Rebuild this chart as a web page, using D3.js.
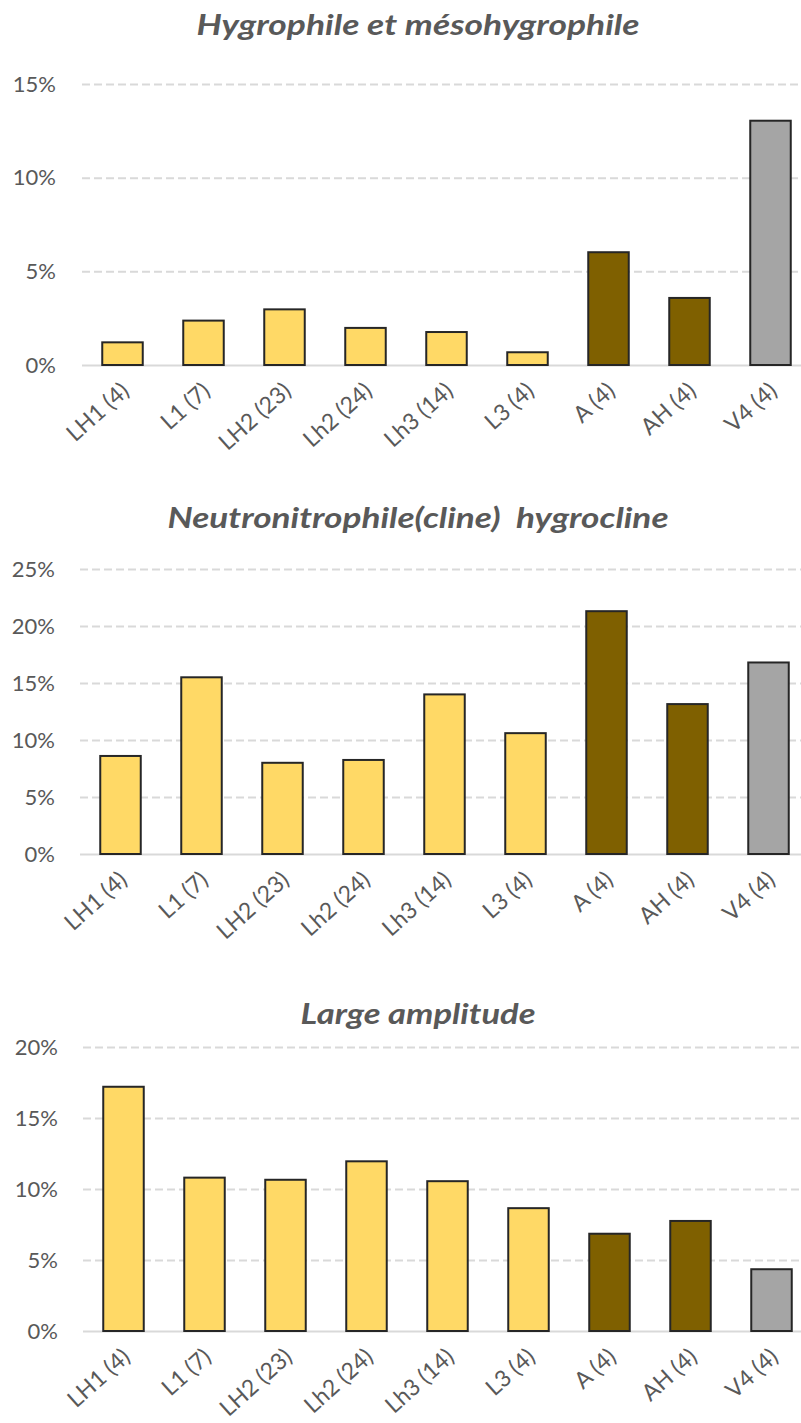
<!DOCTYPE html>
<html><head><meta charset="utf-8">
<script src="https://cdn.jsdelivr.net/npm/d3@7"></script>
<style>
html,body{margin:0;padding:0;background:#fff;overflow:hidden;}
svg{display:block;}
</style></head>
<body>
<script>
const categories = ["LH1 (4)","L1 (7)","LH2 (23)","Lh2 (24)","Lh3 (14)","L3 (4)","A (4)","AH (4)","V4 (4)"];
const groups = ["L","L","L","L","L","L","A","A","V"];
const hygroValues = [1.21, 2.37, 2.97, 1.98, 1.76, 0.68, 6.02, 3.58, 13.04];
const neutroValues = [8.6, 15.5, 8.0, 8.25, 14.0, 10.6, 21.3, 13.15, 16.8];
const largeValues = [17.2, 10.8, 10.65, 11.95, 10.55, 8.65, 6.85, 7.75, 4.35];
const hygroTicks = [0, 5, 10, 15];
const neutroTicks = [0, 5, 10, 15, 20, 25];
const largeTicks = [0, 5, 10, 15, 20];
const titles = ["Hygrophile et mésohygrophile", "Neutronitrophile(cline)  hygrocline", "Large amplitude"];

const colorMap = {L: "#FFD966", A: "#7F6000", V: "#A5A5A5"};

const W = 801, H = 1423;
const svg = d3.select("body").append("svg").attr("width", W).attr("height", H);

const panels = [
  {title: titles[0], values: hygroValues, ticks: hygroTicks, max: 15, y0: 365, y1: 84, x0: 82, x1: 811, titleY: 35, titleLen: 443, labelX: 56},
  {title: titles[1], values: neutroValues, ticks: neutroTicks, max: 25, y0: 854, y1: 569, x0: 80, x1: 809, titleY: 528, titleLen: 501, labelX: 55},
  {title: titles[2], values: largeValues, ticks: largeTicks, max: 20, y0: 1331, y1: 1047, x0: 83, x1: 812, titleY: 1024, titleLen: 235, labelX: 58}
];

panels.forEach(p => {
  const g = svg.append("g");
  const x = d3.scaleBand().domain(categories).range([p.x0, p.x1]).paddingInner(0.5).paddingOuter(0.25);
  const y = d3.scaleLinear().domain([0, p.max]).range([p.y0, p.y1]);

  g.append("text")
    .attr("x", 418).attr("y", p.titleY)
    .attr("text-anchor", "middle")
    .attr("font-family", "Lato, 'Open Sans', sans-serif")
    .attr("font-weight", "bold").attr("font-style", "italic")
    .attr("font-size", 29)
    .attr("fill", "#595959")
    .attr("textLength", p.titleLen).attr("lengthAdjust", "spacingAndGlyphs")
    .style("white-space", "pre")
    .text(p.title);

  const yAxis = d3.axisLeft(y).tickValues(p.ticks).tickSize(-(W - p.x0 + 20)).tickFormat(d => d + "%");
  const ag = g.append("g").attr("transform", `translate(${p.x0},0)`).call(yAxis);
  ag.select(".domain").remove();
  ag.selectAll(".tick line")
    .attr("stroke", "#D9D9D9").attr("stroke-width", 2)
    .attr("stroke-dasharray", d => d === 0 ? null : "8,4");
  ag.selectAll(".tick text")
    .attr("x", p.labelX - p.x0)
    .attr("font-family", "Lato, sans-serif")
    .attr("font-size", 22)
    .attr("fill", "#595959");

  g.selectAll("rect.bar").data(p.values).join("rect")
    .attr("class", "bar")
    .attr("x", (d, i) => x(categories[i]))
    .attr("width", x.bandwidth())
    .attr("y", d => y(d))
    .attr("height", d => y(0) - y(d))
    .attr("fill", (d, i) => colorMap[groups[i]])
    .attr("stroke", "#262626").attr("stroke-width", 2);

  const xAxis = d3.axisBottom(x).tickSize(0);
  const xg = g.append("g").attr("transform", `translate(0,${p.y0})`).call(xAxis);
  xg.select(".domain").remove();
  xg.selectAll(".tick text")
    .attr("font-family", "Lato, sans-serif")
    .attr("font-size", 23)
    .attr("fill", "#595959")
    .attr("text-anchor", "end")
    .attr("dy", null)
    .attr("y", 0)
    .attr("transform", "translate(8,28) rotate(-42)");
});
</script>
</body></html>
